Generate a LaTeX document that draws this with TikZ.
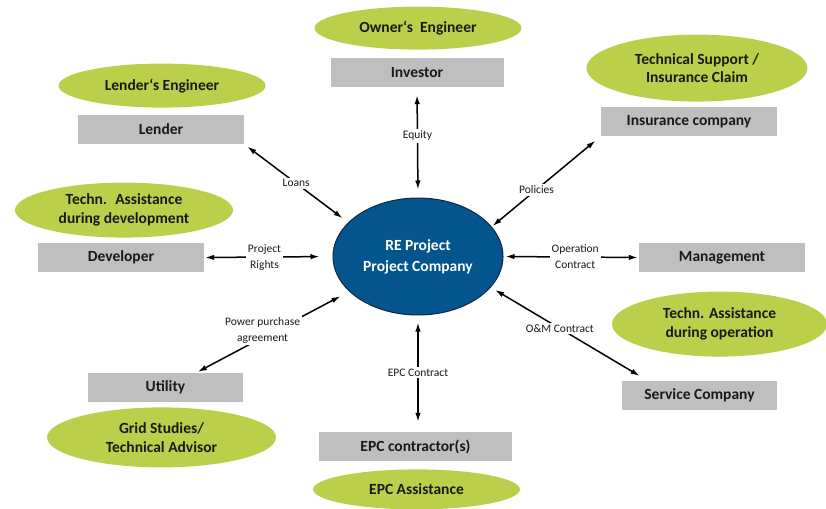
\documentclass[tikz,border=0pt]{standalone}
\usepackage{fontspec}
\setmainfont{Carlito}
\usetikzlibrary{arrows.meta,positioning,shapes.geometric}
\definecolor{helpgreen}{RGB}{188,207,75}
\definecolor{partygray}{RGB}{191,191,191}
\definecolor{coreblue}{RGB}{4,84,142}
\definecolor{coreedge}{RGB}{15,40,70}
\definecolor{inkgray}{RGB}{25,25,25}

\begin{document}
\begin{tikzpicture}[
  x=1pt,y=-1pt,
  node distance=6pt,
  party/.style={rectangle,fill=partygray,inner sep=0pt,minimum height=29pt,text=inkgray,font=\bfseries\fontsize{15.5}{18}\selectfont},
  helper/.style={ellipse,fill=helpgreen,inner sep=0pt,align=center,text=inkgray,font=\bfseries\fontsize{15.5}{18.5}\selectfont},
  core/.style={ellipse,draw=coreedge,line width=1pt,fill=coreblue,text=white,align=center,inner sep=0pt,font=\bfseries\fontsize{15.5}{21}\selectfont},
  link/.style={{Latex[length=9pt,width=5.5pt]}-{Latex[length=9pt,width=5.5pt]},line width=1.5pt},
  tag/.style={fill=white,inner sep=2pt,align=center,text=inkgray,font=\fontsize{11.5}{16}\selectfont},
]
\useasboundingbox (0,0) rectangle (826,508);

% centre
\node[core,minimum width=170pt,minimum height=117pt] (re) at (418,256.5) {RE Project\\Project Company};

% parties
\node[party,minimum width=173pt] (investor) at (417,72.5) {Investor};
\node[party,minimum width=166pt] (lender) at (161,129.5) {Lender};
\node[party,minimum width=166pt] (developer) at (121,257.5) {Developer};
\node[party,minimum width=155pt] (utility) at (165.5,387.5) {Utility};
\node[party,minimum width=193pt] (epc) at (415.5,446.5) {EPC contractor(s)};
\node[party,minimum width=155pt] (service) at (699.5,395.5) {Service Company};
\node[party,minimum width=166pt] (management) at (722,257.5) {Management};
\node[party,minimum width=176pt] (insurance) at (689,121.5) {Insurance company};

% advisors
\node[helper,above=8pt of investor,xshift=1pt,minimum width=207pt,minimum height=43pt] (owner) {Owner‘s~ Engineer};
\node[helper,above=7pt of lender,xshift=1pt,minimum width=207pt,minimum height=44pt] (lendeng) {Lender‘s Engineer};
\node[helper,above=5pt of developer,xshift=3pt,minimum width=218pt,minimum height=55pt] (devhelp) {Techn.~ Assistance\\during development};
\node[helper,below=5pt of utility,xshift=-4pt,minimum width=229pt,minimum height=60pt] (grid) {Grid Studies/\\Technical Advisor};
\node[helper,below=8pt of epc,xshift=1pt,minimum width=207pt,minimum height=40pt] (epchelp) {EPC Assistance};
\node[helper,above=24pt of service,xshift=20pt,minimum width=215pt,minimum height=65pt] (opshelp) {Techn. Assistance\\during operation};
\node[helper,above=5pt of insurance,xshift=8pt,minimum width=221pt,minimum height=67pt] (techsup) {Technical Support /\\Insurance Claim};

% contracts
\draw[link,shorten <=8pt,shorten >=8pt] (investor.south) -- node[tag,pos=0.44] {Equity} (re.north);
\draw[link,shorten <=4pt,shorten >=7pt] (lender.south east) -- node[tag] {Loans} (re.154);
\draw[link,shorten <=1pt,shorten >=13pt] (developer.east) -- node[tag,pos=0.47] {Project\\Rights} (re.west);
\draw[link,shorten <=2pt,shorten >=10pt] ([xshift=30.5pt]utility.north) -- node[tag,xshift=-10pt,yshift=2pt] {Power purchase\\agreement} (re.207);
\draw[link,shorten <=7pt,shorten >=10pt] (re.south) -- node[tag,pos=0.49] {EPC Contract} (re.south |- epc.north);
\draw[link,shorten <=5pt,shorten >=9.5pt] (re.-23) -- node[tag,pos=0.44] {O\&M Contract} ([xshift=26pt]service.north west);
\draw[link,shorten <=2pt,shorten >=1pt] (re.east) -- node[tag,pos=0.53] {Operation\\Contract} (management.west);
\draw[link,shorten <=1pt,shorten >=7pt] (re.22) -- node[tag,pos=0.41] {Policies} (insurance.south west);
\end{tikzpicture}
\end{document}
